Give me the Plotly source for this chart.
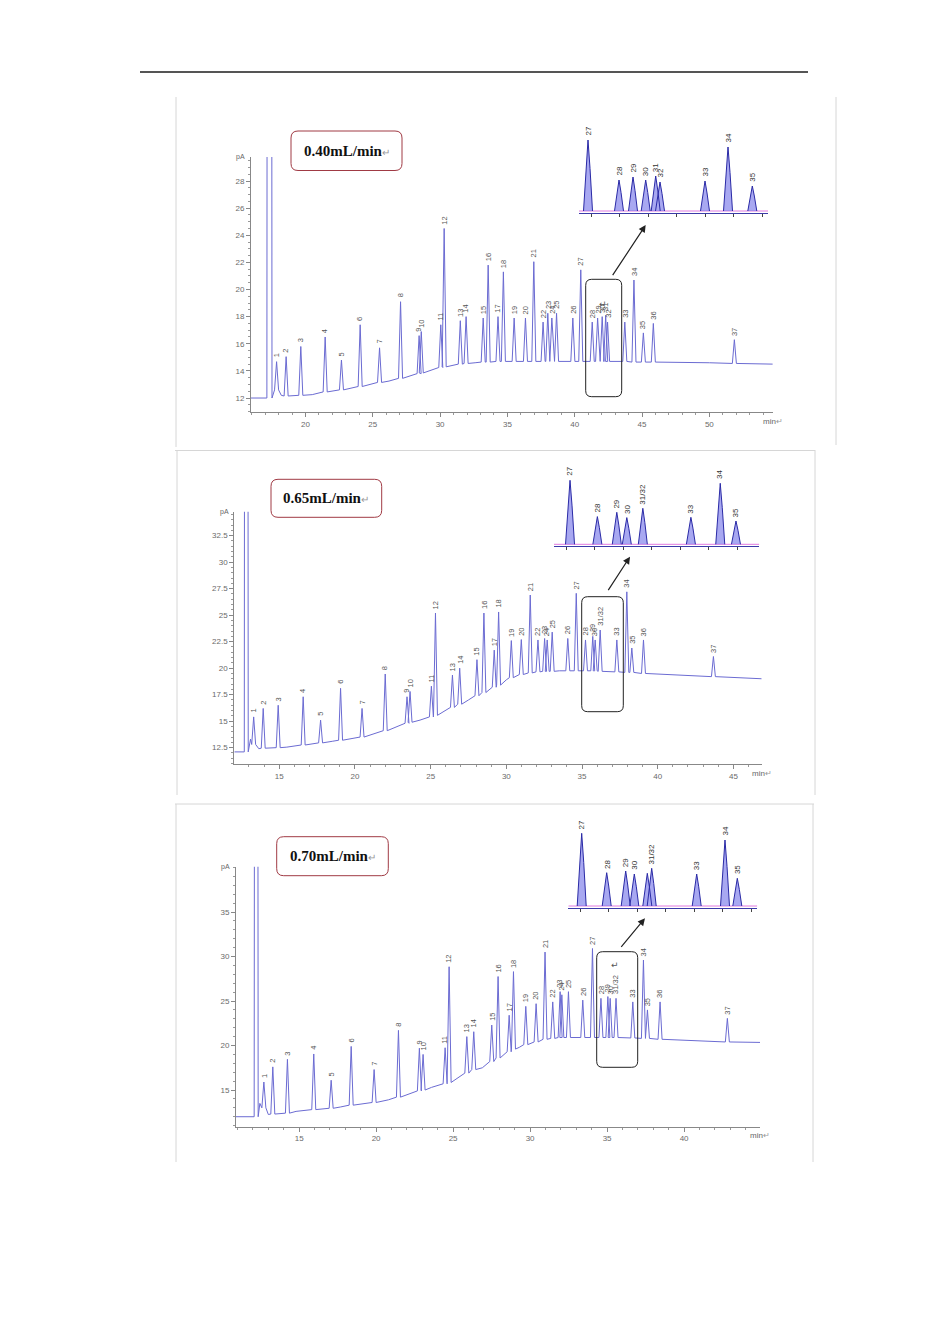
"""
Three GC chromatograms (flow 0.40 / 0.65 / 0.70 mL/min) with zoomed insets
"""
import plotly.graph_objects as go

# page body keeps an 8px margin, so the figure is drawn 8px smaller
OFF = 8
W, H = 950 - OFF, 1344 - OFF

# ---- chart 1 : 0.40 mL/min ----
c1_labels = [str(i) for i in range(1, 38)]
c1_t = [17.85, 18.56, 19.65, 21.46, 22.67, 24.06, 25.5, 27.06, 28.44, 28.6,
        30.05, 30.3, 31.5, 31.93, 33.2, 33.57, 34.3, 34.7, 35.5, 36.34,
        36.96, 37.65, 38.0, 38.3, 38.65, 39.86, 40.45, 41.3, 41.7, 42.04,
        42.3, 42.44, 43.72, 44.4, 45.1, 45.84, 51.86]
c1_top = [14.68, 15.05, 15.8, 16.5, 14.8, 17.4, 15.7, 19.1, 16.6, 16.9,
          17.4, 24.5, 17.7, 18.0, 17.9, 21.8, 18.0, 21.3, 17.9, 17.9,
          22.05, 17.6, 18.25, 17.9, 18.25, 17.9, 21.45, 17.6, 17.9, 18.0,
          18.1, 17.6, 17.6, 20.7, 16.8, 17.5, 16.3]
c1_base = [12.6, 12.15, 12.2, 12.45, 12.6, 12.85, 13.15, 13.45, 13.8, 13.85,
           14.25, 14.3, 14.5, 14.55, 14.65, 14.65, 14.7, 14.7, 14.7, 14.7,
           14.7, 14.7, 14.7, 14.7, 14.7, 14.7, 14.7, 14.7, 14.7, 14.7,
           14.7, 14.7, 14.7, 14.65, 14.65, 14.65, 14.55]
c1_knot_t = [15.9, 17.0, 18.2, 20.5, 26.2, 29.5, 32.6, 47.5, 50.0, 54.7]
c1_knot_v = [12.0, 12.0, 12.2, 12.25, 13.25, 14.1, 14.6, 14.65, 14.6, 14.5]
c1_solvent = (17.32, 12.0)

# ---- chart 2 : 0.65 mL/min ----
c2_labels = [str(i) for i in range(1, 31)] + ['31/32', '33', '34', '35', '36', '37']
c2_t = [13.31, 13.94, 14.93, 16.58, 17.73, 19.05, 20.47, 22.0, 23.44, 23.64,
        25.05, 25.32, 26.44, 26.92, 28.06, 28.52, 29.2, 29.49, 30.33, 30.99,
        31.58, 32.09, 32.53, 32.7, 33.03, 34.06, 34.62, 35.23, 35.71, 35.87,
        36.2, 37.3, 37.96, 38.29, 39.06, 43.68]
c2_top = [15.4, 16.2, 16.5, 17.3, 15.1, 18.1, 16.2, 19.45, 17.3, 17.8,
          18.3, 25.2, 19.35, 20.0, 20.8, 25.2, 21.7, 25.3, 22.6, 22.7,
          26.9, 22.66, 22.8, 22.66, 23.4, 22.8, 27.06, 22.66, 23.0, 22.66,
          23.6, 22.66, 27.2, 21.9, 22.66, 21.1]
c2_base = [12.8, 12.45, 12.5, 12.75, 12.95, 13.2, 13.5, 14.1, 14.8, 14.9,
           15.4, 15.55, 16.3, 16.6, 17.4, 17.7, 18.2, 18.4, 19.1, 19.4,
           19.55, 19.65, 19.7, 19.7, 19.7, 19.75, 19.75, 19.75, 19.75, 19.75,
           19.7, 19.65, 19.6, 19.6, 19.5, 19.2]
c2_knot_t = [12.03, 12.6, 13.1, 13.65, 15.5, 18.5, 21.0, 24.3, 27.5, 30.0, 33.5, 41.0, 46.87]
c2_knot_v = [12.1, 12.1, 13.3, 12.4, 12.55, 13.1, 13.7, 15.1, 17.0, 18.9, 19.75, 19.4, 19.0]
c2_solvent = (12.82, 12.1)

# ---- chart 3 : 0.70 mL/min ----
c3_labels = [str(i) for i in range(1, 31)] + ['31/32', '33', '34', '35', '36', '37']
c3_t = [12.71, 13.29, 14.24, 15.95, 17.08, 18.38, 19.87, 21.45, 22.81, 23.05,
        24.48, 24.74, 25.89, 26.34, 27.51, 27.92, 28.64, 28.92, 29.72, 30.39,
        30.97, 31.47, 31.95, 32.06, 32.49, 33.42, 34.05, 34.6, 35.05, 35.2,
        35.58, 36.67, 37.36, 37.62, 38.44, 42.81]
c3_top = [15.9, 17.6, 18.45, 19.05, 16.1, 19.9, 17.3, 21.7, 19.7, 19.0,
          19.75, 28.85, 21.0, 21.55, 22.3, 27.75, 23.4, 28.3, 24.4, 24.7,
          30.5, 24.9, 26.05, 25.7, 26.05, 25.1, 30.9, 25.3, 25.5, 25.3,
          25.3, 24.9, 29.6, 24.0, 24.9, 23.05]
c3_base = [13.0, 12.3, 12.4, 12.8, 12.95, 13.3, 13.6, 14.2, 14.9, 15.0,
           15.7, 15.85, 16.9, 17.3, 18.2, 18.6, 19.3, 19.6, 20.1, 20.4,
           20.7, 20.8, 20.9, 20.9, 20.9, 20.9, 20.9, 20.9, 20.9, 20.9,
           20.9, 20.85, 20.8, 20.8, 20.7, 20.4]
c3_knot_t = [10.9, 11.9, 12.45, 13.0, 14.8, 17.7, 20.8, 23.6, 26.9, 29.3, 33.7, 40.0, 44.93]
c3_knot_v = [12.0, 12.0, 13.5, 12.25, 12.6, 13.1, 13.9, 15.3, 17.5, 19.8, 20.9, 20.6, 20.35]
c3_solvent = (12.21, 12.0)

SOLVENT_TOP = 300.0

# ---- insets (relative units) ----
in1_t = [0.9, 4.0, 5.4, 6.67, 7.67, 8.1, 12.6, 14.9, 17.33]
in1_h = [7.1, 3.1, 3.4, 3.1, 3.5, 2.9, 3.0, 6.4, 2.5]
in1_labels = ['27', '28', '29', '30', '31', '32', '33', '34', '35']

in2_t = [1.6, 4.33, 6.27, 7.27, 8.87, 13.67, 16.6, 18.17]
in2_h = [6.4, 2.77, 3.2, 2.67, 3.6, 2.7, 6.1, 2.33]
in2_labels = ['27', '28', '29', '30', '31/32', '33', '34', '35']

in3_t = [1.34, 3.84, 5.74, 6.6, 7.9, 8.34, 12.84, 15.67, 16.9]
in3_h = [7.27, 3.33, 3.5, 3.2, 3.27, 3.77, 3.2, 6.6, 2.77]
in3_labels = ['27', '28', '29', '30', '', '31/32', '33', '34', '35']

flow_labels = ['0.40mL/min', '0.65mL/min', '0.70mL/min']

LINE = '#6b6bd2'
TICKFONT = dict(family='Liberation Sans, Arial', size=8, color='#6a6a6a')


def px(x):
    return (x - OFF) / W


def py(y):
    return 1 - (y - OFF) / H


def chrom_xy(knot_t, knot_v, pt, ptop, pbase, solvent, hw, hw_s):
    """baseline knots + triangular peaks, joined in time order"""
    items = [(t, [(t, v)]) for t, v in zip(knot_t, knot_v)]
    for t, top, b in zip(pt, ptop, pbase):
        items.append((t, [(t - hw, b), (t, top), (t + hw, b)]))
    st, sb = solvent
    items.append((st, [(st - hw_s, sb), (st, SOLVENT_TOP), (st + hw_s, sb)]))
    items.sort(key=lambda i: i[0])
    xs, ys = [], []
    for _, pts in items:
        for x, y in pts:
            xs.append(x)
            ys.append(y)
    return xs, ys


def inset_xy(pt, ph, hw=0.45):
    xs, ys = [], []
    for t, h in zip(pt, ph):
        xs += [t - hw, t - 0.45 * hw, t, t + 0.45 * hw, t + hw, None]
        ys += [0, 0.6 * h, h, 0.6 * h, 0, None]
    return xs, ys


def rrect(x0, y0, x1, y1, r=6):
    """rounded rectangle path in paper coords from pixel box"""
    a, b, c, d = px(x0), px(x1), py(y0), py(y1)
    rx, ry = r / W, r / H
    return (f'M {a + rx},{c} L {b - rx},{c} Q {b},{c} {b},{c - ry} '
            f'L {b},{d + ry} Q {b},{d} {b - rx},{d} L {a + rx},{d} '
            f'Q {a},{d} {a},{d + ry} L {a},{c - ry} Q {a},{c} {a + rx},{c} Z')


fig = go.Figure()

charts = [
    dict(ax='', t=c1_t, top=c1_top, base=c1_base, kt=c1_knot_t, kv=c1_knot_v, solv=c1_solvent,
         labels=c1_labels, hw=0.15, hws=0.19,
         xdom=(251, 773), ydom=(157, 412), xr=[15.95, 54.73], yr=[10.97, 29.77],
         xt=[20, 25, 30, 35, 40, 45, 50], yt=[12, 14, 16, 18, 20, 22, 24, 26, 28], ymin=0.5),
    dict(ax='2', t=c2_t, top=c2_top, base=c2_base, kt=c2_knot_t, kv=c2_knot_v, solv=c2_solvent,
         labels=c2_labels, hw=0.13, hws=0.13,
         xdom=(234.3, 761.7), ydom=(511.7, 764.3), xr=[12.03, 46.87], yr=[10.93, 34.76],
         xt=[15, 20, 25, 30, 35, 40, 45], yt=[12.5, 15, 17.5, 20, 22.5, 25, 27.5, 30, 32.5], ymin=0.5),
    dict(ax='3', t=c3_t, top=c3_top, base=c3_base, kt=c3_knot_t, kv=c3_knot_v, solv=c3_solvent,
         labels=c3_labels, hw=0.13, hws=0.13,
         xdom=(236, 760), ydom=(866.7, 1126.7), xr=[10.9, 44.93], yr=[10.88, 40.09],
         xt=[15, 20, 25, 30, 35, 40], yt=[15, 20, 25, 30, 35], ymin=1),
]

insets = [
    dict(ax='4', t=in1_t, h=in1_h, labels=in1_labels, xdom=(579, 768), ydom=(125, 213),
         xr=[0, 18.9], yr=[-0.2, 8.6]),
    dict(ax='5', t=in2_t, h=in2_h, labels=in2_labels, xdom=(554, 759.3), ydom=(470, 546),
         xr=[0, 20.5], yr=[-0.17, 7.43]),
    dict(ax='6', t=in3_t, h=in3_h, labels=in3_labels, xdom=(568.3, 757.3), ydom=(826, 908),
         xr=[0, 18.9], yr=[-0.2, 8.0]),
]

annotations = []
layout_axes = {}

for c in charts:
    xs, ys = chrom_xy(c['kt'], c['kv'], c['t'], c['top'], c['base'], c['solv'], c['hw'], c['hws'])
    fig.add_trace(go.Scatter(x=xs, y=ys, mode='lines', line=dict(color=LINE, width=1),
                             xaxis='x' + c['ax'], yaxis='y' + c['ax'], showlegend=False,
                             hoverinfo='skip'))
    layout_axes['xaxis' + c['ax']] = dict(
        domain=[px(c['xdom'][0]), px(c['xdom'][1])], range=c['xr'], anchor='y' + c['ax'],
        showline=True, linecolor='#888888', linewidth=1, showgrid=False, zeroline=False,
        tickvals=c['xt'], ticks='outside', ticklen=4, tickcolor='#888888', tickfont=TICKFONT,
        minor=dict(dtick=1, ticks='outside', ticklen=2, tickcolor='#999999'))
    layout_axes['yaxis' + c['ax']] = dict(
        domain=[py(c['ydom'][1]), py(c['ydom'][0])], range=c['yr'], anchor='x' + c['ax'],
        showline=True, linecolor='#888888', linewidth=1, showgrid=False, zeroline=False,
        tickvals=c['yt'], ticks='outside', ticklen=4, tickcolor='#888888', tickfont=TICKFONT,
        minor=dict(dtick=c['ymin'], ticks='outside', ticklen=2, tickcolor='#999999'))
    for t, top, lab in zip(c['t'], c['top'], c['labels']):
        annotations.append(dict(x=t, y=top, xref='x' + c['ax'], yref='y' + c['ax'], text=lab,
                                textangle=-90, showarrow=False, yanchor='bottom', xanchor='center',
                                yshift=2, font=dict(family='Liberation Sans, Arial', size=7.5,
                                                    color='#555555')))
    # pA / min
    annotations.append(dict(x=px(c['xdom'][0]) - 0.004, y=py(c['ydom'][0]), xref='paper', yref='paper',
                            text='pA', showarrow=False, xanchor='right', yanchor='middle',
                            font=dict(family='Liberation Sans, Arial', size=7, color='#666666')))
    annotations.append(dict(x=px(c['xdom'][1]), y=py(c['ydom'][1]) - 0.002, xref='paper', yref='paper',
                            text='min<span style="color:#999999">↵</span>', showarrow=False,
                            xanchor='center', yanchor='top',
                            font=dict(family='Liberation Sans, Arial', size=8, color='#666666')))

for s in insets:
    fig.add_trace(go.Scatter(x=s['xr'], y=[0, 0], mode='lines', line=dict(color='#e07ae0', width=1),
                             xaxis='x' + s['ax'], yaxis='y' + s['ax'], showlegend=False,
                             hoverinfo='skip'))
    xs, ys = inset_xy(s['t'], s['h'])
    fig.add_trace(go.Scatter(x=xs, y=ys, mode='lines', fill='toself', fillcolor='rgba(110,110,232,0.6)',
                             line=dict(color='#2a2aa6', width=1), xaxis='x' + s['ax'],
                             yaxis='y' + s['ax'], showlegend=False, hoverinfo='skip'))
    layout_axes['xaxis' + s['ax']] = dict(
        domain=[px(s['xdom'][0]), px(s['xdom'][1])], range=s['xr'], anchor='y' + s['ax'],
        showline=True, linecolor='#3a3aa8', linewidth=1, showgrid=False, zeroline=False,
        showticklabels=False, ticks='outside', ticklen=3, tickcolor='#444444', dtick=2.85, tick0=1.2)
    layout_axes['yaxis' + s['ax']] = dict(
        domain=[py(s['ydom'][1]), py(s['ydom'][0])], range=s['yr'], anchor='x' + s['ax'],
        visible=False)
    for t, h, lab in zip(s['t'], s['h'], s['labels']):
        if lab:
            annotations.append(dict(x=t, y=h, xref='x' + s['ax'], yref='y' + s['ax'], text=lab,
                                    textangle=-90, showarrow=False, yanchor='bottom', xanchor='center',
                                    yshift=2, font=dict(family='Liberation Sans, Arial', size=8,
                                                        color='#333333')))

shapes = []
# top rule
shapes.append(dict(type='line', xref='paper', yref='paper', x0=px(140), x1=px(808), y0=py(72), y1=py(72),
                   line=dict(color='#555555', width=2)))
# panel frames
grey = dict(color='#d6d6d6', width=1)
for x0, y0, x1, y1 in [(176, 97, 176, 447), (836, 97, 836, 445),
                       (175, 450.5, 815, 450.5), (177, 450, 177, 795), (815, 450, 815, 795),
                       (175, 804, 814, 804), (176, 804, 176, 1162), (813, 804, 813, 1162)]:
    shapes.append(dict(type='line', xref='paper', yref='paper', x0=px(x0), x1=px(x1),
                       y0=py(y0), y1=py(y1), line=grey))

# region boxes around zoomed window
for box in [(585.7, 279.3, 621.7, 396.7), (581.7, 596.7, 623.3, 711.7), (596.7, 951.7, 637.7, 1067.3)]:
    shapes.append(dict(type='path', xref='paper', yref='paper', path=rrect(*box, r=6),
                       line=dict(color='#222222', width=1)))

# flow-rate label boxes
label_boxes = [(291, 131, 402, 170.5), (271, 479.3, 381.7, 517.3), (276.7, 836.7, 388.3, 875.7)]
for (x0, y0, x1, y1), txt in zip(label_boxes, flow_labels):
    shapes.append(dict(type='path', xref='paper', yref='paper', path=rrect(x0, y0, x1, y1, r=7),
                       line=dict(color='#a03a44', width=1)))
    annotations.append(dict(x=px((x0 + x1) / 2), y=py((y0 + y1) / 2), xref='paper', yref='paper',
                            text=f'<b>{txt}</b><span style="color:#999999;font-size:10px">↵</span>',
                            showarrow=False, xanchor='center', yanchor='middle',
                            font=dict(family='Liberation Serif, Times New Roman', size=15,
                                      color='#111111')))

# arrows from the box to the inset
for (sx, sy), (ex, ey) in [((611.7, 276.7), (645.7, 225)), ((607.3, 591.7), (630, 556.7)),
                           ((620, 948.3), (645, 918.3))]:
    annotations.append(dict(x=px(ex), y=py(ey), xref='paper', yref='paper', ax=sx - ex, ay=sy - ey,
                            axref='pixel', ayref='pixel', text='', showarrow=True, arrowhead=2,
                            arrowsize=1.2, arrowwidth=1.2, arrowcolor='#222222'))

# stray return marks inside the boxes
for x, y in [(603, 297), (615, 972)]:
    annotations.append(dict(x=px(x), y=py(y), xref='paper', yref='paper', text='↵', showarrow=False,
                            font=dict(family='DejaVu Sans', size=9, color='#555555')))

fig.update_layout(
    width=W, height=H,
    margin=dict(l=0, r=0, t=0, b=0),
    paper_bgcolor='white',
    plot_bgcolor='rgba(0,0,0,0)',
    showlegend=False,
    shapes=shapes,
    annotations=annotations,
    **layout_axes
)

fig.write_html("out.html")
